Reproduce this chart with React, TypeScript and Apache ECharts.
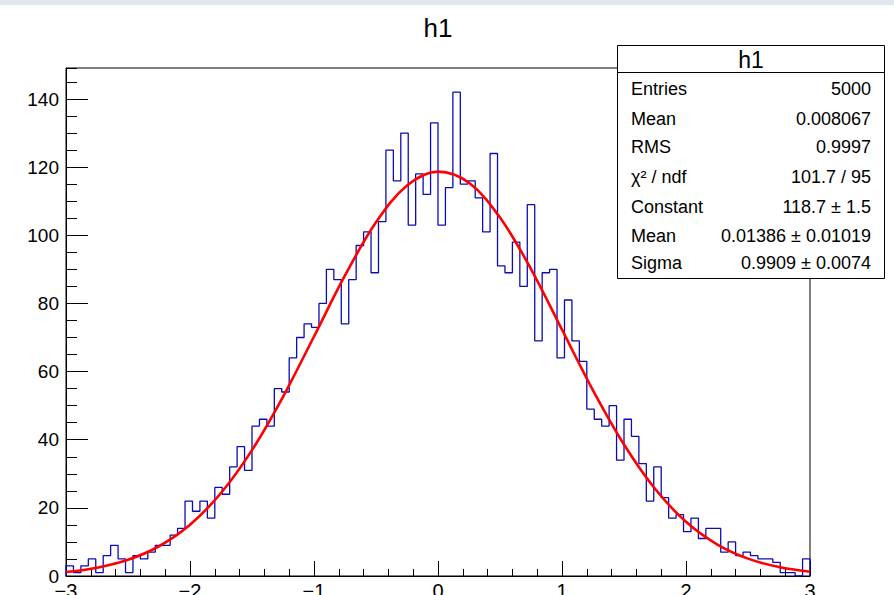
import React, { useEffect, useRef } from "react";
import * as echarts from "echarts";

// Histogram h1: 100 bins from -3 to 3
const xMin = -3;
const xMax = 3;
const binWidth = 0.06;
const counts = [
  3, 1, 3, 5, 1, 6, 9, 5, 1, 6,
  5, 7, 9, 9, 12, 14, 22, 19, 22, 17,
  26, 24, 32, 38, 31, 44, 46, 44, 55, 54,
  64, 70, 74, 73, 80, 90, 87, 74, 87, 97,
  101, 89, 104, 125, 116, 130, 103, 118, 112, 133,
  103, 114, 142, 115, 116, 111, 101, 124, 91, 89,
  98, 85, 109, 69, 89, 90, 64, 81, 69, 63,
  49, 46, 44, 50, 34, 46, 41, 33, 22, 32,
  23, 17, 18, 13, 17, 11, 14, 14, 7, 10,
  6, 7, 6, 5, 5, 4, 1, 1, 0, 5,
];

// Fit curve (gaus)
const fitX = [
  -3, -2.75, -2.5, -2.25, -2, -1.75, -1.5, -1.25, -1, -0.75, -0.5, -0.25, 0,
  0.25, 0.5, 0.75, 1, 1.25, 1.5, 1.75, 2, 2.25, 2.5, 2.75, 3,
];
const fitY = [
  1.16, 2.43, 4.75, 8.73, 15.05, 24.35, 36.95, 52.6, 70.3, 88.2, 103.8, 114.6, 118.69,
  115.4, 105.2, 90.1, 72.3, 54.5, 38.6, 25.6, 15.9, 9.3, 5.1, 2.62, 1.27,
];

const yMax = 149.1;
const yMajor = 20;
const yMinor = 5;

const statTitle = "h1";
const statLabels = ["Entries", "Mean", "RMS", "χ² / ndf", "Constant", "Mean", "Sigma"];
const statValues = ["5000", "0.008067", "0.9997", "101.7 / 95", "118.7 ± 1.5", "0.01386 ± 0.01019", "0.9909 ± 0.0074"];
const statRowY = [89, 119, 147, 177, 207, 236, 263];

const FONT = "'Liberation Sans', Arial, Helvetica, sans-serif";

export default function App() {
  const ref = useRef<HTMLDivElement>(null);
  useEffect(() => {
    if (!ref.current) return;
    const chart = echarts.init(ref.current, undefined, { renderer: "svg" });

    const histPts: number[][] = [[xMin, 0]];
    counts.forEach((c, i) => {
      const lo = +(xMin + i * binWidth).toFixed(4);
      const hi = +(xMin + (i + 1) * binWidth).toFixed(4);
      histPts.push([lo, c]);
      histPts.push([hi, c]);
    });
    histPts.push([xMax, 0]);

    const fitPts = fitX.map((x, i) => [x, fitY[i]]);

    const graphics: any[] = [
      { type: "rect", shape: { x: 0, y: 0, width: 894, height: 5 }, style: { fill: "#e2e7ef" }, z: 100 },
      {
        type: "text", x: 438, y: 28, z: 100,
        style: { text: "h1", fontSize: 26, fontFamily: FONT, fill: "#000", textAlign: "center", textVerticalAlign: "middle" },
      },
      {
        type: "rect", shape: { x: 617.5, y: 45.5, width: 267, height: 233 }, z: 100,
        style: { fill: "#fff", stroke: "#000", lineWidth: 1 },
      },
      { type: "line", shape: { x1: 617.5, y1: 72.5, x2: 884.5, y2: 72.5 }, z: 101, style: { stroke: "#000", lineWidth: 1 } },
      {
        type: "text", x: 751, y: 60, z: 101,
        style: { text: statTitle, fontSize: 23, fontFamily: FONT, fill: "#000", textAlign: "center", textVerticalAlign: "middle" },
      },
    ];
    statLabels.forEach((lab, i) => {
      graphics.push({
        type: "text", x: 631, y: statRowY[i], z: 101,
        style: { text: lab, fontSize: 18, fontFamily: FONT, fill: "#000", textAlign: "left", textVerticalAlign: "middle" },
      });
      graphics.push({
        type: "text", x: 871, y: statRowY[i], z: 101,
        style: { text: statValues[i], fontSize: 18, fontFamily: FONT, fill: "#000", textAlign: "right", textVerticalAlign: "middle" },
      });
    });

    chart.setOption({
      animation: false,
      backgroundColor: "#fff",
      grid: {
        left: 66, right: 84, top: 68, bottom: 19, containLabel: false, outerBoundsMode: "none",
        show: true, borderColor: "#000", borderWidth: 1, backgroundColor: "transparent",
      },
      xAxis: {
        type: "value", min: xMin, max: xMax, interval: 1,
        axisLine: { show: true, onZero: false, lineStyle: { color: "#000", width: 1 } },
        axisTick: { show: true, inside: true, length: 15, lineStyle: { color: "#000" } },
        minorTick: { show: true, splitNumber: 5, length: 7, lineStyle: { color: "#000" } },
        splitLine: { show: false },
        axisLabel: {
          margin: 5, fontSize: 20, fontFamily: FONT, color: "#000",
          formatter: (v: number) => (v < 0 ? "\u2212" + Math.abs(v) : String(v)),
        },
      },
      yAxis: [
        {
          type: "value", min: 0, max: yMax, interval: yMajor, position: "left",
          axisLine: { show: true, onZero: false, lineStyle: { color: "#000", width: 1 } },
          axisTick: { show: true, inside: true, length: 22, lineStyle: { color: "#000" } },
          splitLine: { show: false },
          axisLabel: { margin: 7, fontSize: 19, fontFamily: FONT, color: "#000", showMaxLabel: false },
        },
        {
          type: "value", min: 0, max: yMax, interval: yMinor, position: "left",
          axisLine: { show: false, onZero: false },
          axisTick: { show: true, inside: true, length: 11, lineStyle: { color: "#000" } },
          splitLine: { show: false },
          axisLabel: { show: false },
        },
      ],
      series: [
        {
          type: "line", data: histPts, yAxisIndex: 0, showSymbol: false, symbol: "none",
          lineStyle: { color: "#0c0cb4", width: 1.3 }, z: 3,
        },
        {
          type: "line", data: fitPts, yAxisIndex: 0, showSymbol: false, symbol: "none", smooth: 0.35,
          lineStyle: { color: "#ff0000", width: 2.6 }, z: 4,
        },
      ],
      graphic: graphics,
    });
    return () => chart.dispose();
  }, []);
  return (
    <div
      ref={ref}
      style={{ position: "absolute", left: 0, top: 0, width: 894, height: 595, background: "#fff" }}
    />
  );
}
